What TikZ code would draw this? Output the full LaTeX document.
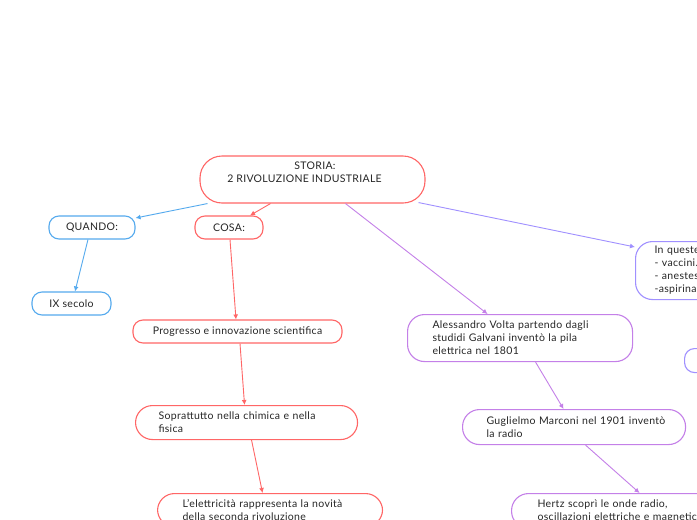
\documentclass[tikz,border=0pt]{standalone}
\usepackage{fontspec}
\setmainfont{Lato}[LetterSpace=3]
\usepackage{tikz}
\usetikzlibrary{positioning,arrows.meta}

\definecolor{redline}{RGB}{255,102,102}
\definecolor{blueline}{RGB}{85,170,238}
\definecolor{purpleline}{RGB}{196,128,232}
\definecolor{lilacline}{RGB}{160,144,255}

\begin{document}
\begin{tikzpicture}[x=1pt,y=-1pt,
  font=\fontsize{10.5pt}{13pt}\selectfont,
  box/.style={draw,line width=1.1pt,rounded corners=10pt,fill=white,text=black!85,
    minimum height=23pt,inner sep=0pt},
  tallbox/.style={box,rounded corners=17pt,anchor=north west,align=left},
  link/.style={line width=0.9pt,-{Latex[length=5pt,width=5pt]}}]
\useasboundingbox[fill=white] (0,0) rectangle (697,520);
\clip (0,0) rectangle (697,520);
% centre node
\node[box,draw=redline,rounded corners=22pt,minimum width=225pt,minimum height=47pt,
  align=center,text depth=14pt]
  (storia) at (312.5,179.5) {\hspace*{5pt}STORIA:\\2 RIVOLUZIONE INDUSTRIALE\hspace*{16pt}};
% quando
\node[box,draw=blueline,minimum width=86pt] (quando) at (92,227.5) {QUANDO:};
\node[box,draw=blueline,minimum width=79pt] (secolo) at (71.5,303.5) {IX secolo};
% cosa
\node[box,draw=redline,minimum width=68pt] (cosa) at (229,227.5) {COSA:};
\node[box,draw=redline,minimum width=209pt] (progresso) at (237.5,331.5)
  {Progresso e innovazione scientifica};
\node[tallbox,draw=redline,text width=176pt,inner xsep=23pt,minimum height=34pt]
  (soprattutto) at (135,405) {\mbox{Soprattutto nella chimica e nella}\\fisica};
\node[tallbox,draw=redline,text width=175pt,inner xsep=25pt,inner ysep=6pt]
  (elettricita) at (157,493) {\mbox{L’elettricità rappresenta la novità}\\della seconda rivoluzione};
% scoperte
\node[tallbox,draw=purpleline,text width=175pt,inner xsep=25pt,minimum height=47pt]
  (volta) at (407,314) {\mbox{Alessandro Volta partendo dagli}\\studidi Galvani inventò la pila\\elettrica nel 1801};
\node[tallbox,draw=purpleline,text width=175pt,inner xsep=24pt,minimum height=35pt]
  (marconi) at (462,409) {\mbox{Guglielmo Marconi nel 1901 inventò}\\la radio};
\node[tallbox,draw=purpleline,text width=210pt,inner xsep=26pt,inner ysep=6pt]
  (hertz) at (511,493) {Hertz scoprì le onde radio,\\\mbox{oscillazioni elettriche e magnetiche}};
% medicina
\node[tallbox,draw=lilacline,text width=120pt,inner xsep=19pt,minimum height=58pt]
  (medicina) at (635,241) {In queste\\- vaccini.\\- anestesia\\-aspirina};
\node[box,draw=lilacline,anchor=north west,minimum width=60pt,minimum height=24pt]
  (altro) at (684,348) {};
% connections
\draw[link,blueline] ([xshift=-105pt]storia.south) -- ([yshift=9.5pt]quando.east);
\draw[link,blueline] ([xshift=-4pt]quando.south) -- ([xshift=3.5pt]secolo.north);
\draw[link,redline] ([xshift=-42pt]storia.south) -- ([xshift=21pt]cosa.north);
\draw[link,redline] ([xshift=1pt]cosa.south) -- ([xshift=-1.5pt]progresso.north);
\draw[link,redline] ([xshift=2.5pt]progresso.south) -- ([xshift=-2pt]soprattutto.north);
\draw[link,redline] ([xshift=5pt]soprattutto.south) -- ([xshift=-7.5pt]elettricita.north);
\draw[link,purpleline] ([xshift=33pt]storia.south) -- ([xshift=-32.5pt]volta.north);
\draw[link,purpleline] ([xshift=15.5pt]volta.south) -- ([xshift=-10.5pt]marconi.north);
\draw[link,purpleline] ([xshift=11.5pt]marconi.south) -- ([xshift=-3pt]hertz.north);
\draw[link,lilacline] ([shift={(-7pt,1pt)}]storia.south east) -- ([yshift=-6pt]medicina.north west);
\end{tikzpicture}
\end{document}
